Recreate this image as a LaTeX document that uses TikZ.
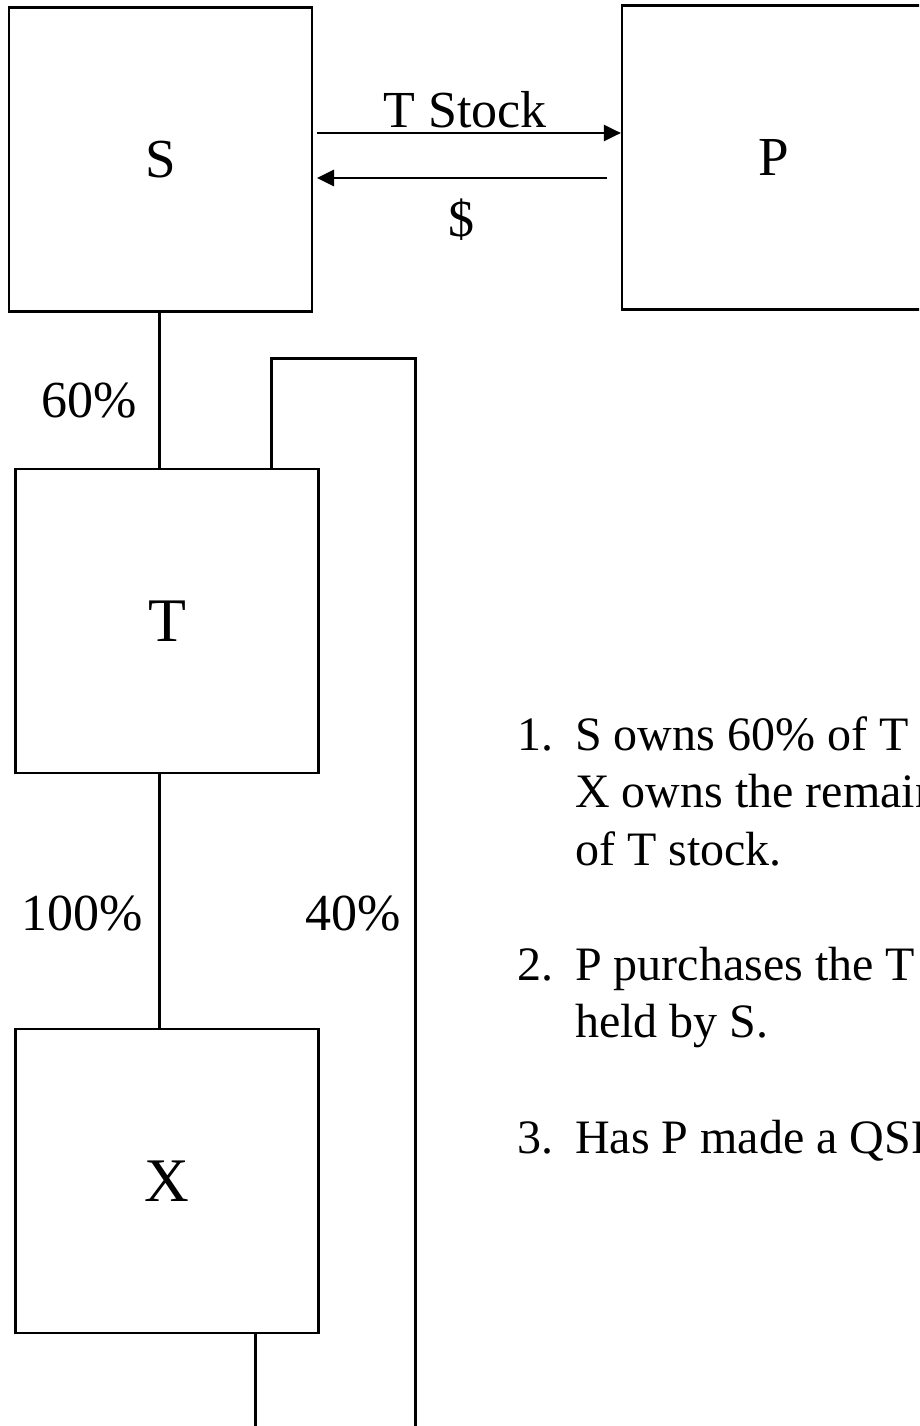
\documentclass[tikz,border=0pt]{standalone}
\usepackage{fontspec}
\setmainfont{Liberation Serif}
\usepackage{tikz}
\usetikzlibrary{arrows.meta,positioning,calc}

\begin{document}
\begin{tikzpicture}[
  x=1pt, y=-1pt,
  box/.style={draw, line width=2.2pt, minimum width=303pt, minimum height=304pt, inner sep=0pt},
  big/.style={font=\fontsize{55}{60}\selectfont},
  bigger/.style={font=\fontsize{62}{70}\selectfont},
  lbl/.style={font=\fontsize{52}{60}\selectfont, inner sep=0pt},
  item/.style={font=\fontsize{48}{58}\selectfont, inner sep=0pt, anchor=base west},
  conn/.style={line width=3pt},
  arr/.style={-{Triangle[length=17pt,width=16pt]}, line width=2.8pt}
]
\useasboundingbox (0,0) rectangle (919,1426);
\clip (0,0) rectangle (919,1426);

% companies
\node[box, big] (S) at (160.5,159.5) {S};
\node[box, big] (P) at (773.5,157.5) {P};
\node[box, bigger] (T) at (167,621) {T};
\node[box, bigger] (X) at (167,1181) {X};

% sale of T stock
\coordinate (sa) at (317,133);
\coordinate (pa) at (607,178);
\draw[arr] (sa) -- (P.west |- sa);
\draw[arr] (pa) -- (sa |- pa);
\node[lbl, anchor=base] (stock) at (465,128) {T Stock};
\node[lbl] (cash) at (461,220) {\$};

% ownership lines
\coordinate (ltl) at (271,358);
\coordinate (ltr) at (415,358);
\coordinate (lend) at (415,1426);
\coordinate (xout) at (255,1426);
\draw[conn] (S.south -| 159,0) -- (T.north -| 159,0);
\draw[conn] (T.south -| 159,0) -- (X.north -| 159,0);
\draw[conn] (T.north -| ltl) -- (ltl) -- (ltr) -- (lend);
\draw[conn] (X.south -| xout) -- (xout);
\node[lbl, anchor=base west] (p60) at (41,417) {60\%};
\node[lbl, anchor=base west] (p100) at (21,930) {100\%};
\node[lbl, anchor=base west] (p40) at (305,930) {40\%};

% facts
\foreach \n/\y in {1/750, 2/980, 3/1153}
  \node[item] (num\n) at (517,\y) {\n.};
\foreach \y/\txt [count=\i] in {750/S owns 60\% of T, 807/X owns the remaining,
    865/of T stock., 980/P purchases the T, 1037/held by S., 1153/Has P made a QSP}
  \node[item] (line\i) at (575,\y) {\txt};
\end{tikzpicture}
\end{document}
